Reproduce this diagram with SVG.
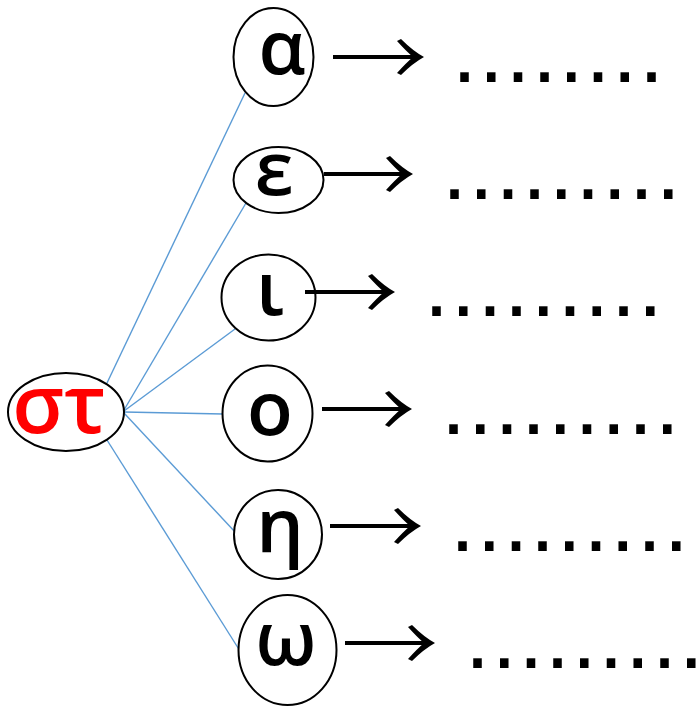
<svg xmlns="http://www.w3.org/2000/svg" width="696" height="706" viewBox="0 0 696 706">
<style>
.node{fill:#fff;stroke:#000;stroke-width:2}
.lbl{font-family:"Open Sans","Noto Sans","DejaVu Sans",sans-serif;font-size:75px;font-weight:600;fill:#000;text-anchor:middle}
.root{font-family:"Open Sans","Noto Sans","DejaVu Sans",sans-serif;font-size:82px;font-weight:600;fill:#FF0000;text-anchor:middle}
.dots{font-family:"Liberation Sans",Arial,sans-serif;font-size:90px;letter-spacing:1.7px;fill:#000}
.edge{stroke:#5B9BD5;stroke-width:1.4;fill:none}
.shaft{stroke:#000;stroke-width:4;fill:none}
.head{fill:#000;stroke:none}
</style>
<defs>
<path id="ah" d="M 2 0 Q -9 -6 -21 -18 L -25 -16 Q -16 -6 -9 0 Q -16 6 -25 16 L -21 18 Q -9 6 2 0 Z"/>
</defs>
<g id="connectors">
<line class="edge" x1="107" y1="383" x2="245" y2="93"/>
<line class="edge" x1="124" y1="410" x2="246" y2="203"/>
<line class="edge" x1="124" y1="411" x2="235" y2="329"/>
<line class="edge" x1="124" y1="412" x2="223" y2="414"/>
<line class="edge" x1="124" y1="413" x2="236" y2="533"/>
<line class="edge" x1="107" y1="440" x2="240" y2="651"/>
</g>
<g id="root">
<ellipse class="node" cx="66" cy="412" rx="58" ry="39"/>
<text class="root" x="59" y="433">στ</text>
</g>
<g id="n-alpha">
<ellipse class="node" cx="273.5" cy="57" rx="40" ry="49"/>
<text class="lbl" x="282" y="74">α</text>
</g>
<g id="n-epsilon">
<ellipse class="node" cx="278.5" cy="180" rx="45" ry="33"/>
<text class="lbl" x="274" y="195">ε</text>
</g>
<g id="n-iota">
<ellipse class="node" cx="268.5" cy="297.5" rx="47" ry="43"/>
<text class="lbl" x="270" y="315">ι</text>
</g>
<g id="n-omicron">
<ellipse class="node" cx="267.5" cy="413.5" rx="45" ry="48"/>
<text class="lbl" x="270" y="435">ο</text>
</g>
<g id="n-eta">
<ellipse class="node" cx="278" cy="534.5" rx="44" ry="44.5"/>
<text class="lbl" x="280" y="552">η</text>
</g>
<g id="n-omega">
<ellipse class="node" cx="287.5" cy="650" rx="49" ry="55"/>
<text class="lbl" x="286" y="665">ω</text>
</g>
<g id="arrows">
<line class="shaft" x1="333" y1="57" x2="418" y2="57"/><use href="#ah" class="head" transform="translate(422,57)"/>
<line class="shaft" x1="324" y1="174" x2="407" y2="174"/><use href="#ah" class="head" transform="translate(411,174)"/>
<line class="shaft" x1="305" y1="292" x2="389" y2="292"/><use href="#ah" class="head" transform="translate(393,292)"/>
<line class="shaft" x1="322" y1="409" x2="406" y2="409"/><use href="#ah" class="head" transform="translate(410,409)"/>
<line class="shaft" x1="330" y1="526" x2="415" y2="526"/><use href="#ah" class="head" transform="translate(419,526)"/>
<line class="shaft" x1="345" y1="643" x2="429" y2="643"/><use href="#ah" class="head" transform="translate(433,643)"/>
</g>
<g id="dots">
<text class="dots" x="452" y="82">........</text>
<text class="dots" x="442" y="199">.........</text>
<text class="dots" x="424" y="316">.........</text>
<text class="dots" x="441" y="434">.........</text>
<text class="dots" x="450" y="551">.........</text>
<text class="dots" x="465" y="668">.........</text>
</g>
</svg>
